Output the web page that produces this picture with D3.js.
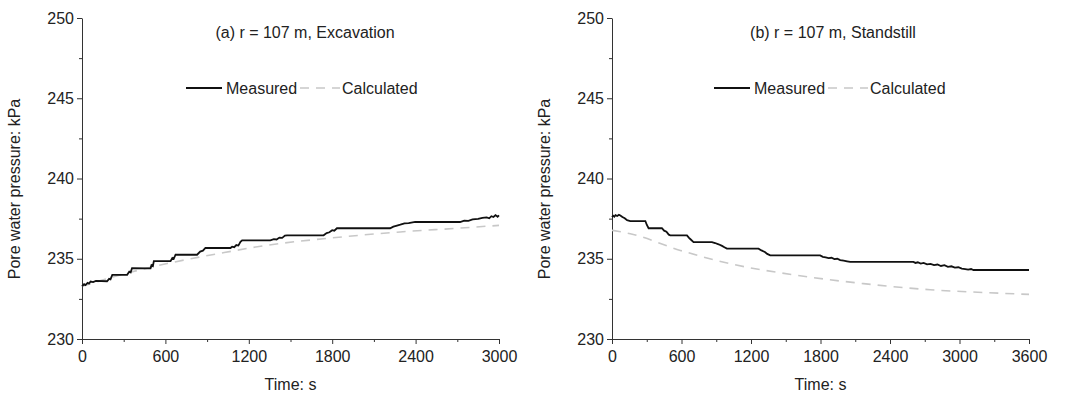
<!DOCTYPE html>
<html>
<head>
<meta charset="utf-8">
<script src="https://cdn.jsdelivr.net/npm/d3@7"></script>
<style>
  body { margin: 0; background: #fff; }
  svg { font-family: "Liberation Sans", Arial, sans-serif; }
  .axis path, .axis line { stroke: #333; }
  .axis text { fill: #222; font-size: 16px; }
</style>
</head>
<body>
<div id="chart"></div>
<script>
// panel (a): excavation, t in s, pressure in kPa
var measuredA = [[0,233.28],[15,233.42],[25,233.36],[40,233.5],[50,233.45],[62,233.58],[80,233.55],[100,233.62],[180,233.6],[195,233.75],[205,233.72],[218,234.0],[325,234.0],[340,234.2],[350,234.15],[360,234.42],[493,234.4],[500,234.6],[510,234.55],[517,234.85],[637,234.85],[650,235.05],[660,235.0],[673,235.25],[828,235.25],[850,235.45],[870,235.5],[888,235.67],[1068,235.67],[1080,235.75],[1095,235.72],[1110,235.85],[1125,235.82],[1140,236.05],[1152,236.15],[1355,236.15],[1380,236.22],[1400,236.2],[1420,236.32],[1440,236.3],[1460,236.44],[1475,236.46],[1738,236.46],[1760,236.6],[1780,236.65],[1800,236.78],[1815,236.75],[1834,236.9],[2217,236.9],[2240,237.0],[2260,237.05],[2290,237.12],[2320,237.2],[2350,237.22],[2397,237.3],[2720,237.29],[2750,237.38],[2780,237.36],[2810,237.45],[2850,237.48],[2880,237.55],[2911,237.58],[2930,237.52],[2945,237.65],[2960,237.6],[2975,237.72],[2990,237.62],[3000,237.7]];
var calculatedA = [[0,233.28],[300,234.05],[613,234.7],[1000,235.35],[1331,235.84],[1800,236.3],[2289,236.67],[2700,236.9],[3000,237.08]];

// panel (b): standstill
var measuredB = [[0,237.6],[10,237.68],[20,237.62],[30,237.72],[45,237.66],[60,237.74],[72,237.7],[90,237.6],[110,237.52],[130,237.4],[158,237.35],[288,237.35],[300,237.12],[316,236.9],[431,236.9],[450,236.75],[470,236.68],[490,236.5],[503,236.46],[647,236.46],[665,236.3],[680,236.2],[704,236.04],[863,236.04],[890,235.98],[920,235.9],[950,235.8],[970,235.72],[992,235.63],[1265,235.63],[1290,235.52],[1320,235.42],[1340,235.3],[1366,235.21],[1797,235.21],[1820,235.12],[1845,235.08],[1870,235.04],[1895,235.06],[1920,234.98],[1945,235.0],[1970,234.92],[2000,234.88],[2030,234.84],[2056,234.8],[2602,234.8],[2620,234.74],[2640,234.78],[2665,234.7],[2690,234.74],[2720,234.65],[2750,234.68],[2780,234.6],[2810,234.64],[2840,234.55],[2870,234.6],[2900,234.5],[2930,234.53],[2960,234.45],[2990,234.47],[3020,234.38],[3050,234.36],[3075,234.32],[3100,234.36],[3120,234.3],[3600,234.3]];
var calculatedB = [[0,236.77],[158,236.56],[590,235.52],[1021,234.69],[1596,233.97],[2171,233.45],[2746,233.07],[3200,232.9],[3600,232.78]];

var yTicks = [230, 235, 240, 245, 250];
var xTicksA = [0, 600, 1200, 1800, 2400, 3000];
var xTicksB = [0, 600, 1200, 1800, 2400, 3000, 3600];

var W = 1071, H = 395;
var svg = d3.select("#chart").append("svg")
    .attr("width", W)
    .attr("height", H);

function drawPanel(opt) {
  var x = d3.scaleLinear().domain([0, opt.xmax]).range([opt.left, opt.right]);
  var y = d3.scaleLinear().domain([230, 250]).range([339, 18]);

  var g = svg.append("g");

  // minor ticks
  var minorX = d3.range(300, opt.xmax, 600);
  g.append("g").attr("class", "axis")
      .attr("transform", "translate(0,339)")
      .call(d3.axisBottom(x).tickValues(minorX).tickSize(3).tickFormat(""))
      .select(".domain").remove();
  g.append("g").attr("class", "axis")
      .attr("transform", "translate(" + opt.left + ",0)")
      .call(d3.axisLeft(y).tickValues([232.5, 237.5, 242.5, 247.5]).tickSize(3).tickFormat(""))
      .select(".domain").remove();

  var xAxis = g.append("g").attr("class", "axis")
      .attr("transform", "translate(0,339)")
      .call(d3.axisBottom(x).tickValues(opt.xticks).tickSize(5).tickSizeOuter(0).tickFormat(d3.format("d")));
  xAxis.selectAll("text").attr("dy", "0.95em");

  g.append("g").attr("class", "axis")
      .attr("transform", "translate(" + opt.left + ",0)")
      .call(d3.axisLeft(y).tickValues(yTicks).tickSize(5).tickSizeOuter(0).tickFormat(d3.format("d")));

  var line = d3.line()
      .x(function(d) { return x(d[0]); })
      .y(function(d) { return y(d[1]); });

  g.append("path")
      .datum(opt.calc)
      .attr("d", line.curve(d3.curveMonotoneX))
      .attr("fill", "none")
      .attr("stroke", "#c8c8c8")
      .attr("stroke-width", 1.6)
      .attr("stroke-dasharray", "9,7");

  g.append("path")
      .datum(opt.meas)
      .attr("d", line.curve(d3.curveLinear))
      .attr("fill", "none")
      .attr("stroke", "#111")
      .attr("stroke-width", 1.8);

  // title
  g.append("text")
      .attr("x", opt.titleX)
      .attr("y", 38)
      .attr("text-anchor", "middle")
      .attr("fill", "#222")
      .style("font-size", "16px")
      .text(opt.title);

  // legend
  var lg = g.append("g");
  lg.append("line")
      .attr("x1", opt.legX).attr("x2", opt.legX + 36)
      .attr("y1", 88).attr("y2", 88)
      .attr("stroke", "#111").attr("stroke-width", 1.8);
  lg.append("text")
      .attr("x", opt.legX + 40).attr("y", 94)
      .attr("fill", "#222").style("font-size", "16px")
      .text("Measured");
  lg.append("line")
      .attr("x1", opt.legX + 114).attr("x2", opt.legX + 154)
      .attr("y1", 88).attr("y2", 88)
      .attr("stroke", "#c8c8c8").attr("stroke-width", 1.6)
      .attr("stroke-dasharray", "9,7");
  lg.append("text")
      .attr("x", opt.legX + 156).attr("y", 94)
      .attr("fill", "#222").style("font-size", "16px")
      .text("Calculated");

  // axis labels
  g.append("text")
      .attr("x", (opt.left + opt.right) / 2)
      .attr("y", 390)
      .attr("text-anchor", "middle")
      .attr("fill", "#222")
      .style("font-size", "16px")
      .text("Time: s");

  g.append("text")
      .attr("transform", "translate(" + (opt.left - 62) + ",189) rotate(-90)")
      .attr("text-anchor", "middle")
      .attr("fill", "#222")
      .style("font-size", "16px")
      .text("Pore water pressure: kPa");
}

drawPanel({left: 82, right: 499, xmax: 3000, xticks: xTicksA, meas: measuredA, calc: calculatedA,
  title: "(a) r = 107 m, Excavation", titleX: 305, legX: 186});
drawPanel({left: 612, right: 1029, xmax: 3600, xticks: xTicksB, meas: measuredB, calc: calculatedB,
  title: "(b) r = 107 m, Standstill", titleX: 833, legX: 714});
</script>
</body>
</html>
